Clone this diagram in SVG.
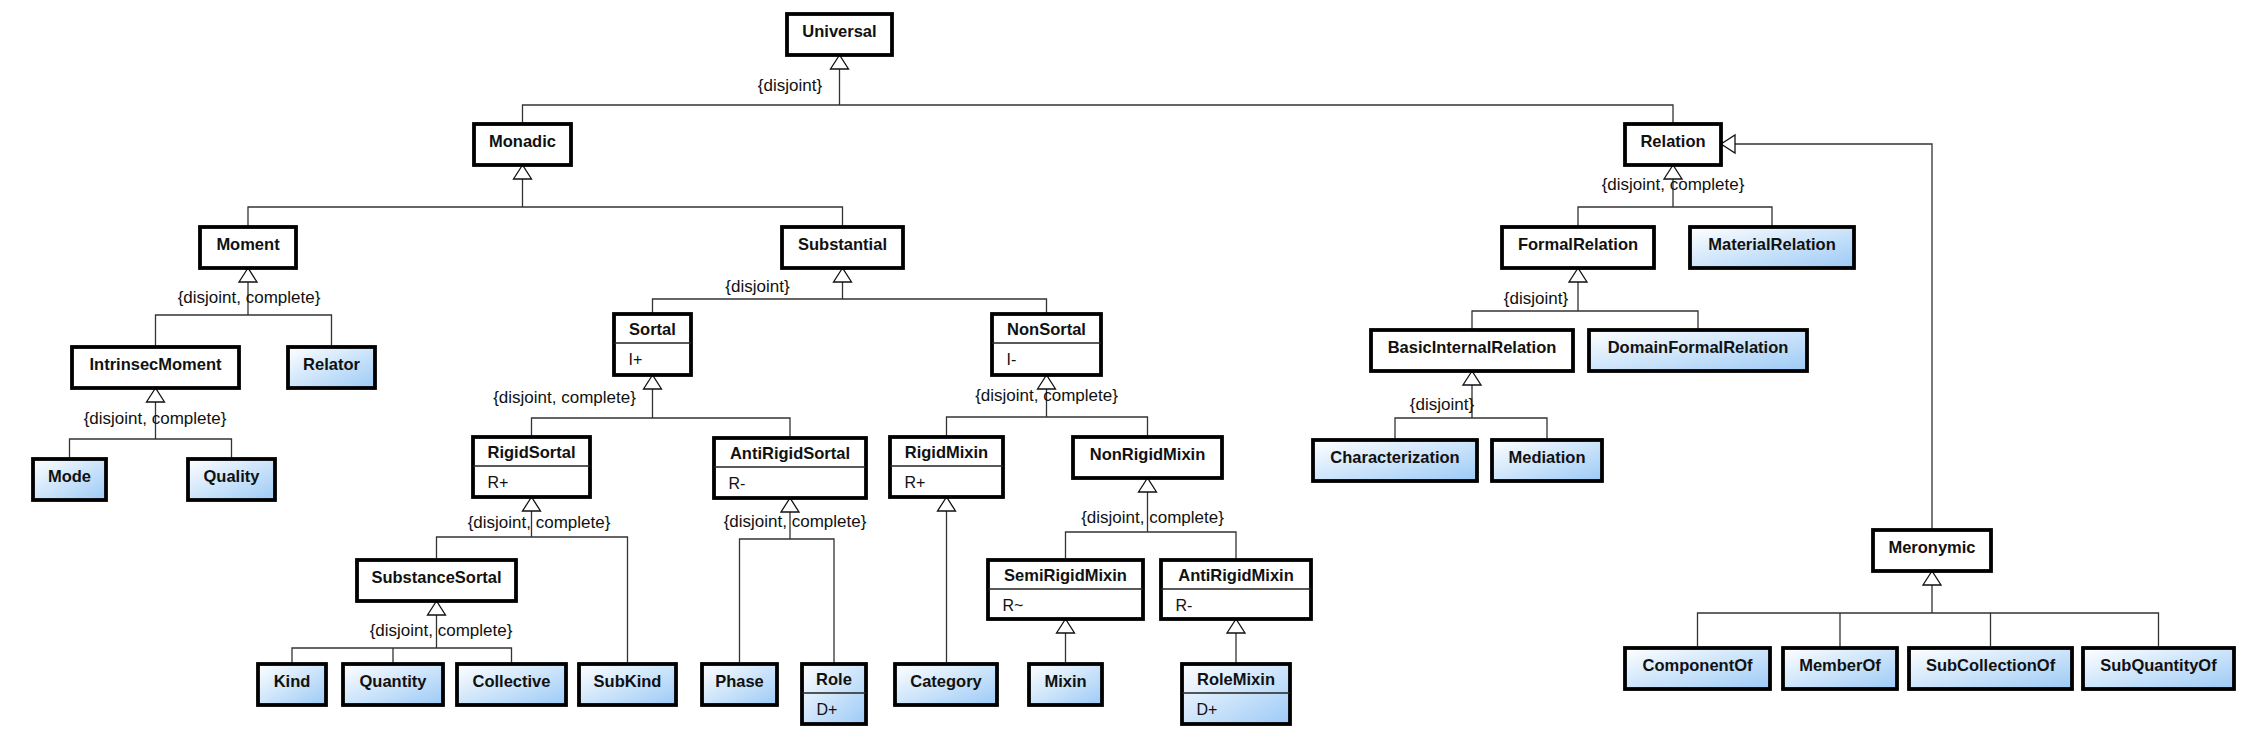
<svg xmlns="http://www.w3.org/2000/svg" width="2261" height="744" viewBox="0 0 2261 744">
<style>
.box{fill:#fff;stroke:#000;stroke-width:3.8}
.blue{fill:url(#bg)}
.sep{stroke:#222;stroke-width:1.3}
.t{font-family:"Liberation Sans",Arial,sans-serif;font-weight:bold;font-size:16.5px;text-anchor:middle;fill:#111}
.a{font-family:"Liberation Sans",Arial,sans-serif;font-size:16px;fill:#111}
.lbl{font-family:"Liberation Sans",Arial,sans-serif;font-size:17px;text-anchor:middle;fill:#111}
.c{fill:none;stroke:#333;stroke-width:1.3}
.tri{fill:#fff;stroke:#111;stroke-width:1.3}
</style>
<defs>
<linearGradient id="bg" x1="0" y1="0" x2="1" y2="1">
<stop offset="0" stop-color="#ffffff"/>
<stop offset="1" stop-color="#9ccaf6"/>
</linearGradient>
</defs>
<rect width="2261" height="744" fill="#fff"/>
<g id="connectors">
<path class="c" d="M839.5 69V105M522.5 124V105H1673V124"/>
<path class="tri" d="M839.5 55L830.5 69H848.5Z"/>
<path class="c" d="M522.5 179V207M248 227V207H842.5V227"/>
<path class="tri" d="M522.5 165L513.5 179H531.5Z"/>
<path class="c" d="M1673 179V207M1578 227V207H1772V227"/>
<path class="tri" d="M1673 165L1664 179H1682Z"/>
<path class="c" d="M1932 530V144H1735"/>
<path class="tri" d="M1721 144L1735 135V153Z"/>
<path class="c" d="M248 282V315M155.5 347V315H331.5V347"/>
<path class="tri" d="M248 268L239 282H257Z"/>
<path class="c" d="M842.5 282V299M652.5 314V299H1046.5V314"/>
<path class="tri" d="M842.5 268L833.5 282H851.5Z"/>
<path class="c" d="M1578 282V311M1472 330V311H1698V330"/>
<path class="tri" d="M1578 268L1569 282H1587Z"/>
<path class="c" d="M155.5 402V439M69.5 459V439H231.5V459"/>
<path class="tri" d="M155.5 388L146.5 402H164.5Z"/>
<path class="c" d="M652.5 389V418M531.5 437V418H790V438"/>
<path class="tri" d="M652.5 375L643.5 389H661.5Z"/>
<path class="c" d="M1046.5 389V417M946.5 437V417H1147.5V437"/>
<path class="tri" d="M1046.5 375L1037.5 389H1055.5Z"/>
<path class="c" d="M1472 385V418M1395 440V418H1547V440"/>
<path class="tri" d="M1472 371L1463 385H1481Z"/>
<path class="c" d="M531.5 511V537M436.5 560V537H627.5V664"/>
<path class="tri" d="M531.5 497L522.5 511H540.5Z"/>
<path class="c" d="M790 512V539M739.5 664V539H834V664"/>
<path class="tri" d="M790 498L781 512H799Z"/>
<path class="c" d="M946.5 511V664"/>
<path class="tri" d="M946.5 497L937.5 511H955.5Z"/>
<path class="c" d="M1147.5 492V532M1065.5 560V532H1236V560"/>
<path class="tri" d="M1147.5 478L1138.5 492H1156.5Z"/>
<path class="c" d="M436.5 615V648M292 664V648H511.5V664M393 648V664"/>
<path class="tri" d="M436.5 601L427.5 615H445.5Z"/>
<path class="c" d="M1065.5 633V664"/>
<path class="tri" d="M1065.5 619L1056.5 633H1074.5Z"/>
<path class="c" d="M1236 633V664"/>
<path class="tri" d="M1236 619L1227 633H1245Z"/>
<path class="c" d="M1932 585V613M1697.5 648V613H2158.5V648M1840 613V648M1990.5 613V648"/>
<path class="tri" d="M1932 571L1923 585H1941Z"/>
<text class="lbl" x="790" y="91">{disjoint}</text>
<text class="lbl" x="249" y="303">{disjoint, complete}</text>
<text class="lbl" x="757.5" y="292">{disjoint}</text>
<text class="lbl" x="1673" y="190">{disjoint, complete}</text>
<text class="lbl" x="1536" y="304">{disjoint}</text>
<text class="lbl" x="155" y="424">{disjoint, complete}</text>
<text class="lbl" x="564.5" y="403">{disjoint, complete}</text>
<text class="lbl" x="1046.5" y="401">{disjoint, complete}</text>
<text class="lbl" x="1442" y="410">{disjoint}</text>
<text class="lbl" x="539" y="528">{disjoint, complete}</text>
<text class="lbl" x="795" y="527">{disjoint, complete}</text>
<text class="lbl" x="1152.5" y="523">{disjoint, complete}</text>
<text class="lbl" x="441" y="636">{disjoint, complete}</text>
</g>
<g id="Universal"><rect class="box" x="787" y="14" width="105" height="41"/><text class="t" x="839.5" y="37">Universal</text></g>
<g id="Monadic"><rect class="box" x="474" y="124" width="97" height="41"/><text class="t" x="522.5" y="147">Monadic</text></g>
<g id="Relation"><rect class="box" x="1625" y="124" width="96" height="41"/><text class="t" x="1673" y="147">Relation</text></g>
<g id="Moment"><rect class="box" x="200" y="227" width="96" height="41"/><text class="t" x="248" y="250">Moment</text></g>
<g id="Substantial"><rect class="box" x="782" y="227" width="121" height="41"/><text class="t" x="842.5" y="250">Substantial</text></g>
<g id="FormalRelation"><rect class="box" x="1502" y="227" width="152" height="41"/><text class="t" x="1578" y="250">FormalRelation</text></g>
<g id="MaterialRelation"><rect class="box blue" x="1690" y="227" width="164" height="41"/><text class="t" x="1772" y="250">MaterialRelation</text></g>
<g id="Sortal"><rect class="box" x="614" y="314" width="77" height="61"/><line class="sep" x1="614" y1="343" x2="691" y2="343"/><text class="t" x="652.5" y="335">Sortal</text><text class="a" x="628.5" y="365">I+</text></g>
<g id="NonSortal"><rect class="box" x="992" y="314" width="109" height="61"/><line class="sep" x1="992" y1="343" x2="1101" y2="343"/><text class="t" x="1046.5" y="335">NonSortal</text><text class="a" x="1006.5" y="365">I-</text></g>
<g id="IntrinsecMoment"><rect class="box" x="72" y="347" width="167" height="41"/><text class="t" x="155.5" y="370">IntrinsecMoment</text></g>
<g id="Relator"><rect class="box blue" x="288" y="347" width="87" height="41"/><text class="t" x="331.5" y="370">Relator</text></g>
<g id="BasicInternalRelation"><rect class="box" x="1371" y="330" width="202" height="41"/><text class="t" x="1472" y="353">BasicInternalRelation</text></g>
<g id="DomainFormalRelation"><rect class="box blue" x="1589" y="330" width="218" height="41"/><text class="t" x="1698" y="353">DomainFormalRelation</text></g>
<g id="Mode"><rect class="box blue" x="33" y="459" width="73" height="41"/><text class="t" x="69.5" y="482">Mode</text></g>
<g id="Quality"><rect class="box blue" x="188" y="459" width="87" height="41"/><text class="t" x="231.5" y="482">Quality</text></g>
<g id="RigidSortal"><rect class="box" x="473" y="437" width="117" height="60"/><line class="sep" x1="473" y1="466" x2="590" y2="466"/><text class="t" x="531.5" y="458">RigidSortal</text><text class="a" x="487.5" y="488">R+</text></g>
<g id="AntiRigidSortal"><rect class="box" x="714" y="438" width="152" height="60"/><line class="sep" x1="714" y1="467" x2="866" y2="467"/><text class="t" x="790" y="459">AntiRigidSortal</text><text class="a" x="728.5" y="489">R-</text></g>
<g id="RigidMixin"><rect class="box" x="890" y="437" width="113" height="60"/><line class="sep" x1="890" y1="466" x2="1003" y2="466"/><text class="t" x="946.5" y="458">RigidMixin</text><text class="a" x="904.5" y="488">R+</text></g>
<g id="NonRigidMixin"><rect class="box" x="1073" y="437" width="149" height="41"/><text class="t" x="1147.5" y="460">NonRigidMixin</text></g>
<g id="Characterization"><rect class="box blue" x="1313" y="440" width="164" height="41"/><text class="t" x="1395" y="463">Characterization</text></g>
<g id="Mediation"><rect class="box blue" x="1492" y="440" width="110" height="41"/><text class="t" x="1547" y="463">Mediation</text></g>
<g id="SubstanceSortal"><rect class="box" x="357" y="560" width="159" height="41"/><text class="t" x="436.5" y="583">SubstanceSortal</text></g>
<g id="SemiRigidMixin"><rect class="box" x="988" y="560" width="155" height="59"/><line class="sep" x1="988" y1="589" x2="1143" y2="589"/><text class="t" x="1065.5" y="581">SemiRigidMixin</text><text class="a" x="1002.5" y="611">R~</text></g>
<g id="AntiRigidMixin"><rect class="box" x="1161" y="560" width="150" height="59"/><line class="sep" x1="1161" y1="589" x2="1311" y2="589"/><text class="t" x="1236" y="581">AntiRigidMixin</text><text class="a" x="1175.5" y="611">R-</text></g>
<g id="Meronymic"><rect class="box" x="1873" y="530" width="118" height="41"/><text class="t" x="1932" y="553">Meronymic</text></g>
<g id="Kind"><rect class="box blue" x="258" y="664" width="68" height="41"/><text class="t" x="292" y="687">Kind</text></g>
<g id="Quantity"><rect class="box blue" x="343" y="664" width="100" height="41"/><text class="t" x="393" y="687">Quantity</text></g>
<g id="Collective"><rect class="box blue" x="457" y="664" width="109" height="41"/><text class="t" x="511.5" y="687">Collective</text></g>
<g id="SubKind"><rect class="box blue" x="579" y="664" width="97" height="41"/><text class="t" x="627.5" y="687">SubKind</text></g>
<g id="Phase"><rect class="box blue" x="702" y="664" width="75" height="41"/><text class="t" x="739.5" y="687">Phase</text></g>
<g id="Role"><rect class="box blue" x="802" y="664" width="64" height="60"/><line class="sep" x1="802" y1="693" x2="866" y2="693"/><text class="t" x="834" y="685">Role</text><text class="a" x="816.5" y="715">D+</text></g>
<g id="Category"><rect class="box blue" x="895" y="664" width="102" height="41"/><text class="t" x="946" y="687">Category</text></g>
<g id="Mixin"><rect class="box blue" x="1029" y="664" width="73" height="41"/><text class="t" x="1065.5" y="687">Mixin</text></g>
<g id="RoleMixin"><rect class="box blue" x="1182" y="664" width="108" height="60"/><line class="sep" x1="1182" y1="693" x2="1290" y2="693"/><text class="t" x="1236" y="685">RoleMixin</text><text class="a" x="1196.5" y="715">D+</text></g>
<g id="ComponentOf"><rect class="box blue" x="1625" y="648" width="145" height="41"/><text class="t" x="1697.5" y="671">ComponentOf</text></g>
<g id="MemberOf"><rect class="box blue" x="1783" y="648" width="114" height="41"/><text class="t" x="1840" y="671">MemberOf</text></g>
<g id="SubCollectionOf"><rect class="box blue" x="1909" y="648" width="163" height="41"/><text class="t" x="1990.5" y="671">SubCollectionOf</text></g>
<g id="SubQuantityOf"><rect class="box blue" x="2083" y="648" width="151" height="41"/><text class="t" x="2158.5" y="671">SubQuantityOf</text></g>
</svg>
